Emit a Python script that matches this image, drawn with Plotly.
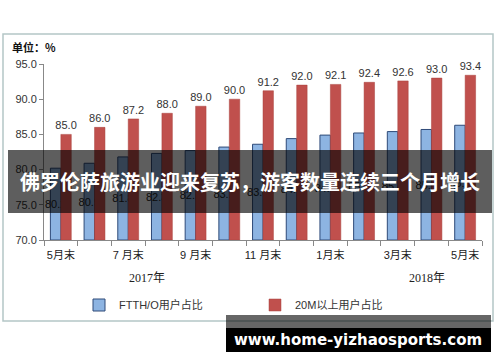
import plotly.graph_objects as go

# ---- data ----
categories = ["2017-05", "2017-06", "2017-07", "2017-08", "2017-09", "2017-10", "2017-11",
              "2017-12", "2018-01", "2018-02", "2018-03", "2018-04", "2018-05"]
tick_labels = ["5月末", "", "7 月末", "", "9 月末", "", "11 月末", "", "1月末", "", "3月末", "", "5月末"]
ftth_share = [80.2, 80.9, 81.8, 82.3, 82.7, 83.2, 83.6, 84.4, 84.9, 85.2, 85.4, 85.7, 86.3]
m20_share = [85.0, 86.0, 87.2, 88.0, 89.0, 90.0, 91.2, 92.0, 92.1, 92.4, 92.6, 93.0, 93.4]
series_names = ["FTTH/O用户占比", "20M以上用户占比"]
y_min, y_max = 70, 95
year_labels = ["2017年", "2018年"]

W, H = 500, 362
L, R, T, B = 44, 482, 64, 240  # plot area in pixels


def px_x(p):
    return (p - L) / (R - L)


def px_y(p):
    return (B - p) / (B - T)


fig = go.Figure()
fig.add_trace(go.Bar(
    x=categories, y=[v - y_min for v in ftth_share], base=y_min,
    name=series_names[0],
    marker=dict(color="#8DB4E2", line=dict(color="#2E4A78", width=1)),
    text=[f"{v:.1f}" for v in ftth_share], textposition="inside",
    insidetextanchor="middle", textangle=0, constraintext="none",
    insidetextfont=dict(color="#222222", size=11, family="Liberation Sans, Arial"),
))
fig.add_trace(go.Bar(
    x=categories, y=[v - y_min for v in m20_share], base=y_min,
    name=series_names[1],
    marker=dict(color="#C0504D", line=dict(color="#A8403D", width=0.5)),
    text=[f"{v:.1f}" for v in m20_share], textposition="outside",
    textangle=0, constraintext="none", cliponaxis=False,
    outsidetextfont=dict(color="#333333", size=11, family="Liberation Sans, Arial"),
))

fig.update_layout(
    width=W, height=H,
    margin=dict(l=L, r=W - R, t=T, b=H - B, pad=0, autoexpand=False),
    paper_bgcolor="white", plot_bgcolor="white",
    barmode="group", bargap=0.38, bargroupgap=0,
    showlegend=True,
    legend=dict(orientation="h", x=px_x(79), xanchor="left", y=px_y(305), yanchor="middle",
                font=dict(size=11, color="#333333", family="Liberation Sans, Noto Sans CJK SC"),
                entrywidth=131, entrywidthmode="pixels", itemwidth=30,
                bgcolor="rgba(0,0,0,0)", traceorder="normal"),
    font=dict(family="Liberation Sans, Noto Sans CJK SC", color="#333333"),
)
fig.update_xaxes(
    type="category", tickmode="array", tickvals=categories, ticktext=tick_labels,
    tickson="boundaries", ticks="outside", ticklen=5, tickcolor="#888888", tickangle=0,
    ticklabelstandoff=5,
    showline=True, linecolor="#888888", linewidth=1, showgrid=False, automargin=False,
    tickfont=dict(size=11, color="#222222"), range=[-0.5, len(categories) - 0.5],
)
fig.update_yaxes(
    range=[y_min, y_max], tickvals=[70, 75, 80, 85, 90, 95], tickformat=".1f",
    ticks="outside", ticklen=4, tickcolor="#888888", automargin=False,
    showline=True, linecolor="#888888", linewidth=1, showgrid=False, zeroline=False,
    tickfont=dict(size=11, color="#333333"),
)

shapes = [
    # chart frame
    dict(type="rect", xref="paper", yref="paper", x0=px_x(3), x1=px_x(493), y0=px_y(34), y1=px_y(321),
         line=dict(color="#B4C6C6", width=1.5), fillcolor="rgba(0,0,0,0)", layer="below"),
    # banner
    dict(type="rect", xref="paper", yref="paper", x0=px_x(8), x1=px_x(492), y0=px_y(150), y1=px_y(213),
         line=dict(width=0), fillcolor="rgba(0,0,0,0.63)", layer="above"),
    # watermark box
    dict(type="rect", xref="paper", yref="paper", x0=px_x(226), x1=px_x(491), y0=px_y(315), y1=px_y(328),
         line=dict(width=0), fillcolor="rgba(0,0,0,0.6)", layer="above"),
    dict(type="rect", xref="paper", yref="paper", x0=px_x(226), x1=px_x(491), y0=px_y(328), y1=px_y(352),
         line=dict(width=0), fillcolor="#000000", layer="above"),
]
fig.update_layout(shapes=shapes)

annotations = [
    dict(text="<b>单位：%</b>", xref="paper", yref="paper", x=px_x(10), y=px_y(47),
         xanchor="left", yanchor="middle", showarrow=False,
         font=dict(size=11, color="#111111", family="Noto Sans CJK SC")),
    dict(text=year_labels[0], xref="paper", yref="paper", x=px_x(147), y=px_y(278),
         xanchor="center", yanchor="middle", showarrow=False,
         font=dict(size=12, color="#222222", family="Liberation Serif, Noto Sans CJK SC")),
    dict(text=year_labels[1], xref="paper", yref="paper", x=px_x(427), y=px_y(278),
         xanchor="center", yanchor="middle", showarrow=False,
         font=dict(size=12, color="#222222", family="Liberation Serif, Noto Sans CJK SC")),
    dict(text="<b>佛罗伦萨旅游业迎来复苏，游客数量连续三个月增长</b>", xref="paper", yref="paper",
         x=px_x(250), y=px_y(181), xanchor="center", yanchor="middle", showarrow=False,
         font=dict(size=20, color="white", family="Noto Sans CJK SC")),
    dict(text="<b>www.home-yizhaosports.com</b>", xref="paper", yref="paper",
         x=px_x(358), y=px_y(340), xanchor="center", yanchor="middle", showarrow=False,
         font=dict(size=15, color="white", family="DejaVu Sans")),
]
fig.update_layout(annotations=annotations)

fig.write_html("out.html", config={"displayModeBar": False},
               post_script="document.body.style.margin='0';document.body.style.padding='0';")
